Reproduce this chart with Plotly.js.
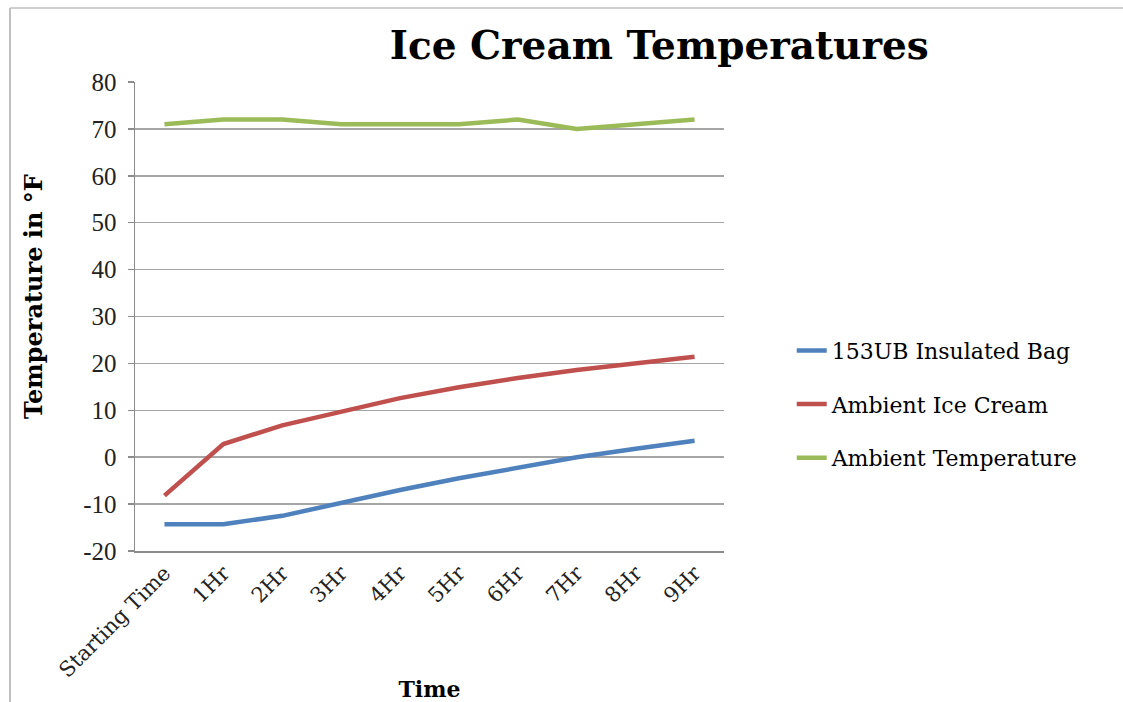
<!DOCTYPE html>
<html>
<head>
<meta charset="utf-8">
<script src="https://cdn.plot.ly/plotly-3.0.1.min.js"></script>
<style>html,body{margin:0;padding:0;background:#fff;}#chart{width:1123px;height:702px;}</style>
</head>
<body>
<div id="chart"></div>
<script>
const categories = ["Starting Time","1Hr","2Hr","3Hr","4Hr","5Hr","6Hr","7Hr","8Hr","9Hr"];
const insulatedBag = [-14.3,-14.3,-12.5,-9.7,-7.0,-4.5,-2.2,0,1.8,3.5];
const ambientIceCream = [-8.2,2.8,6.8,9.8,12.6,14.9,16.9,18.6,20.0,21.4];
const ambientTemperature = [71,72,72,71,71,71,72,70,71,72];
const seriesNames = ["153UB Insulated Bag","Ambient Ice Cream","Ambient Temperature"];
const yTicks = [-20,-10,0,10,20,30,40,50,60,70,80];

const serif = "DejaVu Serif, Liberation Serif, serif";
const traces = [
  {x: categories, y: insulatedBag, name: seriesNames[0], legendgroup: "a", type: "scatter", mode: "lines", line: {color: "#4f81bd", width: 4.5}},
  {x: categories, y: ambientIceCream, name: seriesNames[1], legendgroup: "b", type: "scatter", mode: "lines", line: {color: "#c0504d", width: 4.5}},
  {x: categories, y: ambientTemperature, name: seriesNames[2], legendgroup: "c", type: "scatter", mode: "lines", line: {color: "#9bbb59", width: 4.5}}
];

const layout = {
  width: 1123, height: 702,
  margin: {l: 135, r: 399, t: 82, b: 151},
  paper_bgcolor: "#fff", plot_bgcolor: "#fff",
  showlegend: true,
  title: {text: "<b>Ice Cream Temperatures</b>", font: {family: serif, size: 39, color: "#000"}, x: 0.587, xanchor: "center", y: 0.935, yanchor: "middle"},
  xaxis: {
    type: "category", range: [-0.5, 9.5], tickangle: -45,
    showgrid: false, showline: true, linecolor: "#8c8c8c", linewidth: 1.5,
    ticks: "", tickfont: {family: serif, size: 21, color: "#222"},
    title: {text: "<b>Time</b>", font: {family: serif, size: 22, color: "#000"}, standoff: 8},
    fixedrange: true
  },
  yaxis: {
    range: [-20, 80], tickvals: yTicks, ticktext: yTicks.map(String),
    showgrid: true, gridcolor: "#a6a6a6", gridwidth: 1.5, zeroline: false,
    showline: true, linecolor: "#8c8c8c", linewidth: 1.5,
    ticks: "outside", ticklen: 6, tickcolor: "#8c8c8c", tickwidth: 1.5,
    ticklabelstandoff: 6,
    tickfont: {family: "Liberation Serif, serif", size: 25, color: "#222"},
    fixedrange: true
  },
  annotations: [
    {text: "<b>Temperature in °F</b>", xref: "paper", yref: "paper", x: -102/589, y: (551-297)/469, xanchor: "center", yanchor: "middle", textangle: -90, showarrow: false, font: {family: serif, size: 24, color: "#000"}}
  ],
  legend: {
    x: 1.115, xanchor: "left", y: 0.313, yanchor: "middle",
    font: {family: serif, size: 22, color: "#000"},
    tracegroupgap: 22, itemwidth: 30, bgcolor: "rgba(0,0,0,0)"
  },
  shapes: [
    {type: "line", xref: "paper", yref: "paper", x0: -125/589, x1: 1000/589, y0: 543/469, y1: 543/469, line: {color: "#d0d0d0", width: 2}},
    {type: "line", xref: "paper", yref: "paper", x0: -125/589, x1: -125/589, y0: 543/469, y1: -151/469, line: {color: "#c0c0c0", width: 2}}
  ]
};

Plotly.newPlot("chart", traces, layout, {displayModeBar: false, staticPlot: true});
</script>
</body>
</html>
